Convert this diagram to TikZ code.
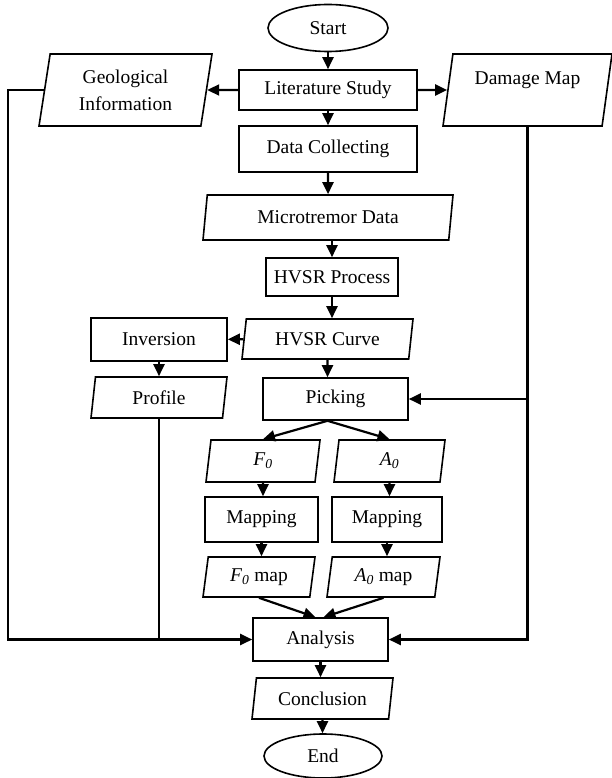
\documentclass[tikz,border=0pt]{standalone}
\usepackage{fontspec}
\setmainfont{Liberation Serif}
\usetikzlibrary{shapes.geometric,arrows.meta}

\begin{document}
\begin{tikzpicture}[x=1pt,y=-1pt,
    >={Triangle[length=12pt,width=11pt]},
    every node/.style={font=\fontsize{19.5}{23}\selectfont,line width=1.6pt,inner sep=2pt},
    proc/.style={draw,rectangle},
    io/.style={draw,trapezium,trapezium left angle=76,trapezium right angle=104,trapezium stretches body},
    term/.style={draw,ellipse},
    flow/.style={line width=2.2pt}]
  \useasboundingbox (0,0) rectangle (612,778);
  \node[term,minimum width=120pt,minimum height=47pt] (start) at (328,28) {Start};
  \node[proc,minimum width=178pt,minimum height=40pt] (lit) at (328,90) {Literature Study};
  \node[io,minimum width=173pt,minimum height=72pt,align=center,font=\fontsize{19.5}{27}\selectfont] (geo) at (125.5,90) {Geological\\Information};
  \node[io,minimum width=169pt,minimum height=72pt,align=center] (dmg) at (527.5,90) {Damage Map\\\mbox{}};
  \node[proc,minimum width=178pt,minimum height=46pt] (data) at (328,149) {Data Collecting};
  \node[io,minimum width=250pt,minimum height=45pt] (micro) at (328,217.5) {Microtremor Data};
  \node[proc,minimum width=132pt,minimum height=38pt] (hvsrp) at (332,277) {HVSR Process};
  \node[io,minimum width=171pt,minimum height=40pt] (hvsrc) at (327.5,339) {HVSR Curve};
  \node[proc,minimum width=136pt,minimum height=43pt] (inv) at (159,339.5) {Inversion};
  \node[io,minimum width=136pt,minimum height=41pt] (prof) at (159,397.5) {Profile};
  \node[proc,minimum width=145pt,minimum height=42pt] (pick) at (335.5,399) {Picking};
  \node[io,minimum width=114pt,minimum height=42pt] (fz) at (263,461) {\textit{F\textsubscript{0}}};
  \node[io,minimum width=111pt,minimum height=42pt] (az) at (389.5,461) {\textit{A\textsubscript{0}}};
  \node[proc,minimum width=113pt,minimum height=45pt] (mapf) at (261.5,519.5) {Mapping};
  \node[proc,minimum width=110pt,minimum height=45pt] (mapa) at (387,519.5) {Mapping};
  \node[io,minimum width=112pt,minimum height=40pt] (fzmap) at (259,577) {\textit{F\textsubscript{0}} map};
  \node[io,minimum width=113pt,minimum height=40pt] (azmap) at (383.5,577) {\textit{A\textsubscript{0}} map};
  \node[proc,minimum width=135pt,minimum height=43pt] (ana) at (320.5,639.5) {Analysis};
  \node[io,minimum width=141pt,minimum height=41pt] (conc) at (322.5,698.5) {Conclusion};
  \node[term,minimum width=118pt,minimum height=44pt] (stop) at (323,756) {End};
  \coordinate (lc) at (8,639.5);

  \draw[flow,->] (start) -- (lit);
  \draw[flow,->] (lit) -- (geo);
  \draw[flow,->] (lit) -- (dmg);
  \draw[flow,->] (lit) -- (data);
  \draw[flow,->] (data) -- (micro);
  \draw[flow,->] (micro.south -| hvsrp) -- (hvsrp);
  \draw[flow,->] (hvsrp) -- (hvsrp |- hvsrc.north);
  \draw[flow,->] (hvsrc) -- (inv);
  \draw[flow,->] (inv) -- (prof);
  \draw[flow,->] (hvsrc) -- (hvsrc |- pick.north);
  \draw[flow,->] (hvsrc |- pick.south) -- (fz.north);
  \draw[flow,->] (hvsrc |- pick.south) -- (az.north);
  \draw[flow,->] (fz) -- (fz |- mapf.north);
  \draw[flow,->] (az) -- (az |- mapa.north);
  \draw[flow,->] (mapf) -- (mapf |- fzmap.north);
  \draw[flow,->] (mapa) -- (mapa |- azmap.north);
  \draw[flow,->] (fzmap.south) -- ([xshift=-5pt]ana.north);
  \draw[flow,->] (azmap.south) -- ([xshift=3pt]ana.north);
  \draw[flow,->] (ana) -- (ana |- conc.north);
  \draw[flow,->] (conc) -- (conc |- stop.north);
  \draw[flow,->] (geo.west) -| (lc) -- (ana);
  \draw[flow] (prof) -- (prof |- lc);
  \draw[flow,->] (dmg) |- (ana);
  \draw[flow,->] (dmg |- pick) -- (pick);
\end{tikzpicture}
\end{document}
